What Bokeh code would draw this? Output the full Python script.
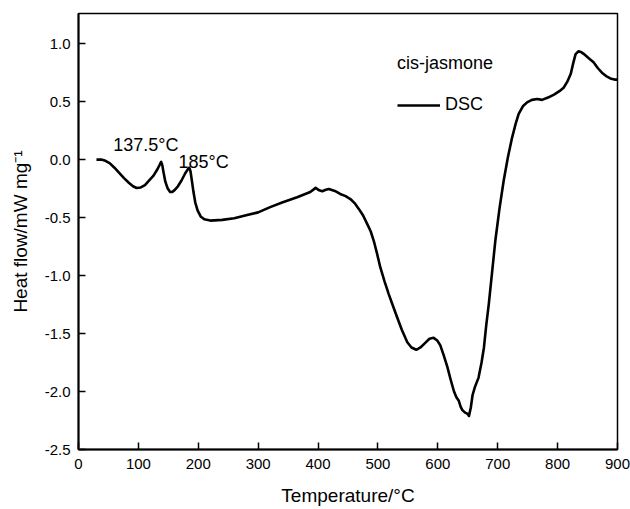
from bokeh.plotting import figure
from bokeh.models import Range1d, FixedTicker, Legend, LegendItem, Label, PrintfTickFormatter
from bokeh.embed import file_html
from bokeh.resources import INLINE

# DSC curve of cis-jasmone
temperature = [30, 38, 45, 52, 60, 68, 76, 84, 91, 97, 104, 111, 118, 125, 131, 136, 138, 140,
               142, 145, 149, 153, 156, 160, 166, 172, 178, 183, 185, 187, 189, 192, 195, 199,
               204, 210, 220, 240, 260, 280, 300, 320, 340, 365, 387, 396, 402, 407, 413, 418,
               428, 437, 446, 454, 461, 468, 475, 482, 488, 493, 498, 504, 511, 518, 525, 532,
               540, 549, 556, 564, 571, 579, 586, 593, 599, 604, 610, 616, 621, 627, 631, 635,
               638, 641, 645, 649, 652, 655, 658, 662, 668, 673, 677, 681, 685, 690, 696, 703,
               710, 717, 724, 730, 735, 742, 749, 757, 766, 774, 784, 794, 803, 810, 816, 822,
               826, 830, 835, 840, 844, 852, 860, 867, 874, 881, 888, 895, 900]
heat_flow = [0.0, 0.0, -0.01, -0.03, -0.07, -0.115, -0.16, -0.20, -0.23, -0.245, -0.24, -0.22,
             -0.18, -0.14, -0.09, -0.04, -0.02, -0.05, -0.11, -0.19, -0.25, -0.28, -0.28, -0.265,
             -0.23, -0.18, -0.12, -0.08, -0.07, -0.10, -0.17, -0.28, -0.37, -0.44, -0.49, -0.515,
             -0.526, -0.52, -0.505, -0.48, -0.455, -0.41, -0.37, -0.325, -0.28, -0.244, -0.265,
             -0.273, -0.26, -0.253, -0.27, -0.296, -0.315, -0.34, -0.375, -0.425, -0.48, -0.554,
             -0.62, -0.70, -0.80, -0.93, -1.05, -1.16, -1.26, -1.36, -1.47, -1.575, -1.62, -1.64,
             -1.62, -1.58, -1.545, -1.537, -1.56, -1.60, -1.69, -1.79, -1.89, -2.0, -2.05, -2.08,
             -2.13, -2.16, -2.18, -2.19, -2.21, -2.14, -2.03, -1.96, -1.88, -1.75, -1.62, -1.42,
             -1.25, -1.0, -0.70, -0.42, -0.18, 0.02, 0.19, 0.31, 0.394, 0.46, 0.494, 0.515, 0.523,
             0.515, 0.535, 0.56, 0.59, 0.62, 0.67, 0.74, 0.83, 0.91, 0.934, 0.925, 0.91, 0.875,
             0.84, 0.79, 0.75, 0.72, 0.70, 0.69, 0.69]

x_ticks = [0, 100, 200, 300, 400, 500, 600, 700, 800, 900]
y_ticks = [-2.5, -2.0, -1.5, -1.0, -0.5, 0.0, 0.5, 1.0]

peak_labels = ["137.5°C", "185°C"]
peak_label_x = [58, 167]
peak_label_y = [0.13, -0.017]

series_name = "DSC"
legend_title = "cis-jasmone"

FONT = "Liberation Sans"

p = figure(width=630, height=509, output_backend="svg", toolbar_location=None,
           x_range=Range1d(0, 900), y_range=Range1d(-2.5, 1.26),
           min_border_left=78, min_border_right=13, min_border_top=13, min_border_bottom=60)

r = p.line(temperature, heat_flow, line_color="black", line_width=2.6, line_join="round")

p.xgrid.visible = False
p.ygrid.visible = False
p.outline_line_color = "black"
p.outline_line_width = 1.5
p.outline_line_alpha = 1.0

p.xaxis.ticker = FixedTicker(ticks=x_ticks)
p.yaxis.ticker = FixedTicker(ticks=y_ticks)
p.yaxis.formatter = PrintfTickFormatter(format="%.1f")

for ax in (p.xaxis[0], p.yaxis[0]):
    ax.axis_line_color = "black"
    ax.axis_line_width = 2
    ax.major_tick_in = 7
    ax.major_tick_out = 0
    ax.major_tick_line_width = 1.5
    ax.major_tick_line_color = "black"
    ax.minor_tick_in = 0
    ax.minor_tick_out = 0
    ax.major_label_text_font = FONT
    ax.major_label_text_font_size = "15px"
    ax.major_label_text_color = "black"
    ax.axis_label_text_font = FONT
    ax.axis_label_text_font_size = "19px"
    ax.axis_label_text_font_style = "normal"
    ax.axis_label_text_color = "black"

p.xaxis.axis_label = "Temperature/°C"
p.yaxis.axis_label = "Heat flow/mW mg⁻¹"
p.xaxis.major_label_standoff = 9
p.xaxis.axis_label_standoff = 13
p.yaxis.major_label_standoff = 8
p.yaxis.axis_label_standoff = 11

for t, lx, ly in zip(peak_labels, peak_label_x, peak_label_y):
    p.add_layout(Label(x=lx, y=ly, text=t, text_font=FONT, text_font_size="18px",
                       text_baseline="middle", text_align="left", text_color="black"))

legend = Legend(items=[LegendItem(label=series_name, renderers=[r])],
                location=(319, 334), title=legend_title,
                title_text_font=FONT, title_text_font_size="18px", title_text_font_style="normal",
                title_text_color="black",
                label_text_font=FONT, label_text_font_size="18px", label_text_color="black",
                glyph_width=43, label_standoff=5, padding=0, margin=0, spacing=0,
                title_standoff=20, border_line_color=None, background_fill_alpha=0)
p.add_layout(legend)

open("out.html", "w").write(file_html(p, INLINE))
